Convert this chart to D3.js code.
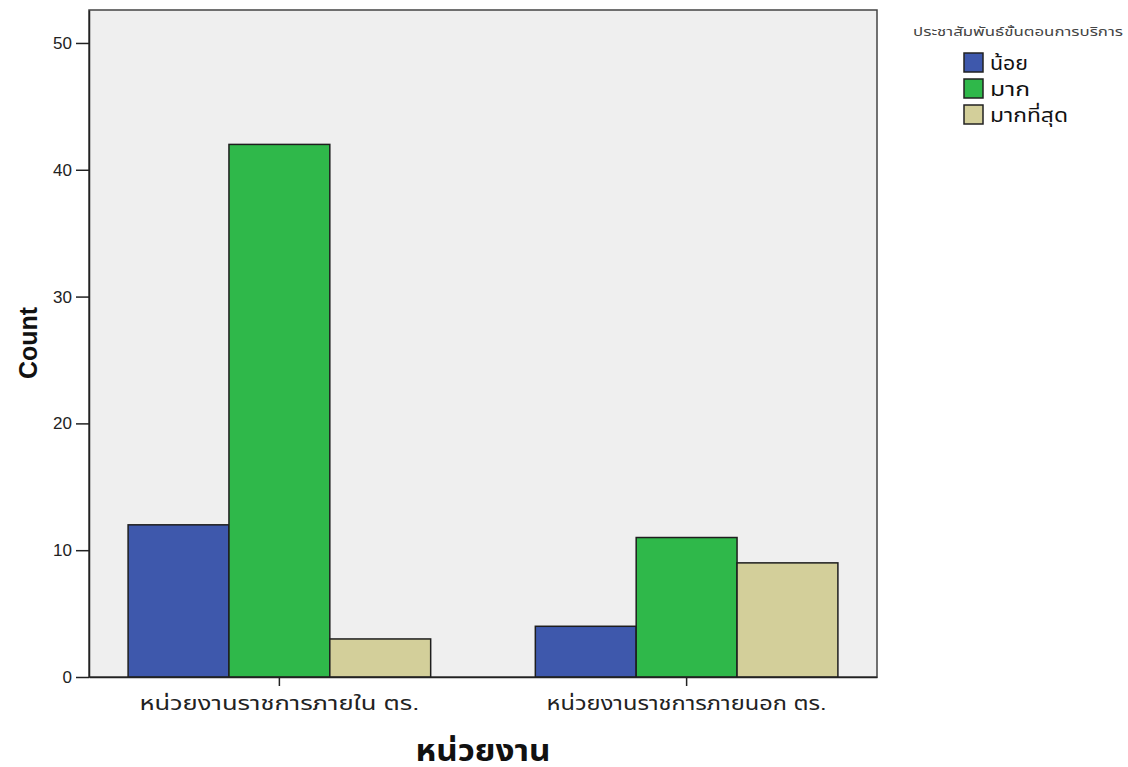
<!DOCTYPE html>
<html>
<head>
<meta charset="utf-8">
<script src="https://cdn.jsdelivr.net/npm/d3@7"></script>
<style>
html,body{margin:0;padding:0;background:#fff;}
svg{display:block;}
text{font-family:Arial,"Liberation Sans","Noto Sans","Noto Sans Thai",sans-serif;}
</style>
</head>
<body>
<svg id="chart" width="1128" height="767"></svg>
<script>
const categories = ["หน่วยงานราชการภายใน ตร.", "หน่วยงานราชการภายนอก ตร."];
const seriesNames = ["น้อย", "มาก", "มากที่สุด"];
const seriesColors = ["#3e58ac", "#2fb84a", "#d3cf9a"];
const values = {
  "น้อย": [12, 4],
  "มาก": [42, 11],
  "มากที่สุด": [3, 9]
};
const yTicks = [0, 10, 20, 30, 40, 50];
const legendTitle = "ประชาสัมพันธ์ขั้นตอนการบริการ";
const xTitle = "หน่วยงาน";
const yTitle = "Count";

const svg = d3.select("#chart");
const plot = {left: 89, top: 10, right: 877, bottom: 677};

const y = d3.scaleLinear().domain([0, 52.6]).range([plot.bottom, plot.top]);
const x0 = d3.scaleBand().domain(categories).range([plot.left, plot.right]).paddingInner(0.257).paddingOuter(0.096);
const x1 = d3.scaleBand().domain(seriesNames).range([0, x0.bandwidth()]).padding(0);

svg.append("rect")
  .attr("x", plot.left).attr("y", plot.top)
  .attr("width", plot.right - plot.left).attr("height", plot.bottom - plot.top)
  .attr("fill", "#efefef").attr("stroke", "#444").attr("stroke-width", 1.5);

const groups = svg.append("g").selectAll("g").data(categories).join("g")
  .attr("transform", d => `translate(${x0(d)},0)`);
groups.selectAll("rect")
  .data((c, i) => seriesNames.map((s, k) => ({s, v: values[s][i], k})))
  .join("rect")
  .attr("x", d => x1(d.s))
  .attr("y", d => y(d.v))
  .attr("width", x1.bandwidth())
  .attr("height", d => y(0) - y(d.v))
  .attr("fill", d => seriesColors[d.k])
  .attr("stroke", "#1e1e1e").attr("stroke-width", 1.5);

// y axis
const yAxis = svg.append("g").attr("transform", `translate(${plot.left},0)`)
  .call(d3.axisLeft(y).tickValues(yTicks).tickSize(13).tickPadding(4).tickSizeOuter(0));
yAxis.select(".domain").attr("stroke", "#222").attr("stroke-width", 1.5);
yAxis.selectAll(".tick line").attr("stroke", "#222").attr("stroke-width", 1.5);
yAxis.selectAll(".tick text").attr("font-size", 17).attr("fill", "#222")
  .style("font-family", "Arial,'Liberation Sans',sans-serif");

// x axis
const xAxis = svg.append("g").attr("transform", `translate(0,${plot.bottom})`)
  .call(d3.axisBottom(x0).tickSize(9).tickPadding(13).tickSizeOuter(0));
xAxis.select(".domain").attr("stroke", "#222").attr("stroke-width", 1.5);
xAxis.selectAll(".tick line").attr("stroke", "#222").attr("stroke-width", 1.5);
xAxis.selectAll(".tick text").attr("font-size", 19).attr("fill", "#222")
  .attr("dy", "0.6em")
  .attr("textLength", 280).attr("lengthAdjust", "spacingAndGlyphs");

// axis titles
svg.append("text").attr("x", 483).attr("y", 761)
  .attr("text-anchor", "middle").attr("font-size", 30).attr("font-weight", "bold")
  .attr("fill", "#111").attr("textLength", 135).attr("lengthAdjust", "spacingAndGlyphs").text(xTitle);
svg.append("text").attr("transform", `translate(37,343) rotate(-90)`)
  .attr("text-anchor", "middle").attr("font-size", 25).attr("font-weight", "bold")
  .attr("fill", "#111").text(yTitle);

// legend
svg.append("text").attr("x", 913).attr("y", 36)
  .attr("font-size", 12).attr("fill", "#444")
  .attr("textLength", 210).attr("lengthAdjust", "spacingAndGlyphs").text(legendTitle);
const legendWidths = [38, 40, 78];
const leg = svg.append("g").selectAll("g").data(seriesNames).join("g")
  .attr("transform", (d, i) => `translate(964,${53 + i * 26})`);
leg.append("rect").attr("width", 19).attr("height", 19)
  .attr("fill", (d, i) => seriesColors[i]).attr("stroke", "#222").attr("stroke-width", 1.5);
leg.append("text").attr("x", 26).attr("y", 17).attr("font-size", 19).attr("fill", "#111")
  .attr("textLength", (d, i) => legendWidths[i]).attr("lengthAdjust", "spacingAndGlyphs").text(d => d);
</script>
</body>
</html>
